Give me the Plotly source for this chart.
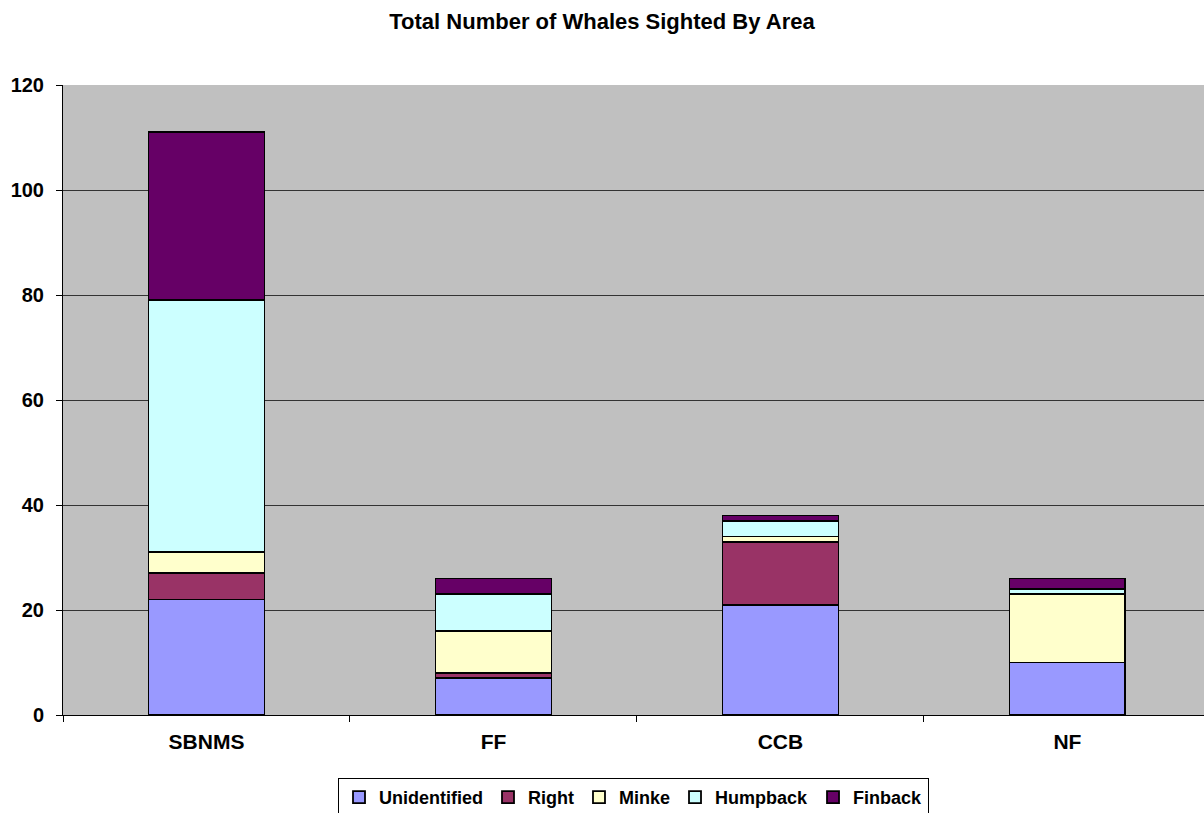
import plotly.graph_objects as go

areas = ["SBNMS", "FF", "CCB", "NF"]
species = ["Unidentified", "Right", "Minke", "Humpback", "Finback"]
unidentified = [22, 7, 21, 10]
right = [5, 1, 12, 0]
minke = [4, 8, 1, 13]
humpback = [48, 7, 3, 1]
finback = [32, 3, 1, 2]
series = [unidentified, right, minke, humpback, finback]
colors = ["#9999FF", "#993366", "#FFFFCC", "#CCFFFF", "#660066"]

FONT = "Liberation Sans, Arial, sans-serif"

fig = go.Figure()
for name, vals, col in zip(species, series, colors):
    fig.add_trace(go.Bar(
        x=areas, y=vals, name=name,
        marker=dict(color=col, line=dict(color="black", width=1.8)),
    ))

fig.update_layout(
    barmode="stack",
    bargap=0.596,
    width=1204, height=813,
    margin=dict(l=63, r=0, t=85, b=98, autoexpand=False),
    paper_bgcolor="white",
    plot_bgcolor="#C0C0C0",
    font=dict(family=FONT, color="black"),
    title=dict(text="Total Number of Whales Sighted By Area",
               x=0.5, xanchor="center", xref="container",
               y=1 - 21 / 813, yanchor="middle", yref="container",
               font=dict(size=22, family=FONT, color="black", weight="bold")),
    legend=dict(orientation="h", x=0.5, xanchor="center", y=-0.1, yanchor="top",
                bordercolor="black", borderwidth=1,
                font=dict(size=18, family=FONT, color="black", weight="bold"),
                itemwidth=30, tracegroupgap=0, traceorder="normal"),
    showlegend=True,
)
fig.update_xaxes(
    type="category", range=[-0.5, 3.476],
    tickson="boundaries", ticks="outside", ticklen=6, tickcolor="black",
    showline=True, linecolor="black", linewidth=1, showgrid=False,
    tickfont=dict(size=21, family=FONT, color="black", weight="bold"),
    ticklabelstandoff=8,
)
fig.update_yaxes(
    range=[0, 120], dtick=20, ticks="outside", ticklen=6, tickcolor="black",
    showline=True, linecolor="black", linewidth=1,
    showgrid=True, gridcolor="#333333", gridwidth=1,
    zeroline=False,
    tickfont=dict(size=20, family=FONT, color="black", weight="bold"),
    ticklabelstandoff=8,
)

fig.write_html("out.html", config={"displayModeBar": False},
               post_script="document.body.style.margin='0';")
